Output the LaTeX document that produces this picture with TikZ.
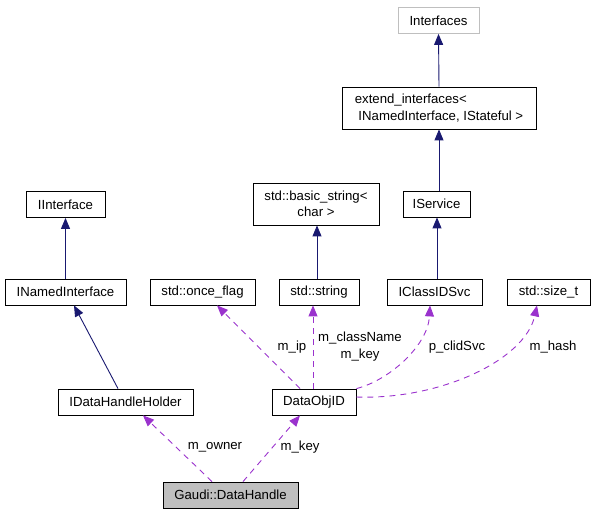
\documentclass[tikz,border=0pt]{standalone}
\usepackage{fontspec}
\setmainfont{Liberation Sans}
\usetikzlibrary{arrows.meta}
\definecolor{navy}{HTML}{191970}
\definecolor{purp}{HTML}{9A32CD}
\definecolor{lgray}{HTML}{BFBFBF}
\begin{document}
\begin{tikzpicture}[x=1pt,y=-1pt,
  txt/.style={font=\fontsize{13.2}{16.5}\selectfont},
  box/.style={txt,draw=black,line width=0.8pt,minimum height=26pt,inner sep=0pt,fill=white},
  inh/.style={draw=navy,line width=0.9pt,-{Triangle[length=11pt,width=9pt,fill=navy]}},
  use/.style={draw=purp,line width=0.9pt,dash pattern=on 6pt off 5pt,-{Triangle[length=11pt,width=9pt,fill=purp]}},
  lbl/.style={txt,inner sep=0pt,align=center}]
\useasboundingbox (0,0) rectangle (593,515);
% nodes
\node[box,draw=lgray,minimum width=81pt] (interfaces) at (438.5,20.5) {Interfaces};
\node[box,minimum width=194pt,minimum height=42pt,align=left] (ext) at (439,108) {extend\_interfaces<\\\ INamedInterface, IStateful >};
\node[box,minimum width=67pt] (iservice) at (436.5,204) {IService};
\node[box,minimum width=126pt,minimum height=42pt,align=center] (basic) at (316,204) {std::basic\_string<\\char >};
\node[box,minimum width=79pt] (iinterface) at (65.5,204.5) {IInterface};
\node[box,minimum width=121pt] (named) at (65.5,292) {INamedInterface};
\node[box,minimum width=105pt] (once) at (202.5,292) {std::once\_flag};
\node[box,minimum width=80pt] (string) at (319,292) {std::string};
\node[box,minimum width=95pt] (clid) at (434.5,292) {IClassIDSvc};
\node[box,minimum width=83pt] (sizet) at (548.5,292) {std::size\_t};
\node[box,minimum width=135pt] (holder) at (125.5,402) {IDataHandleHolder};
\node[box,minimum width=84pt] (dataobj) at (314,402) {DataObjID};
\node[box,fill=lgray,minimum width=135pt] (gaudi) at (230.5,495) {Gaudi::DataHandle};
% inheritance
\draw[inh] (ext.north) -- (interfaces.south);
\draw[inh] ([xshift=2.5pt]iservice.north) -- (ext.south);
\draw[inh] ([xshift=2.5pt]clid.north) -- ([xshift=0.5pt]iservice.south);
\draw[inh] ([xshift=-2pt]string.north) -- ([xshift=1pt]basic.south);
\draw[inh] (named.north) -- (iinterface.south);
\draw[inh] ([xshift=-7.5pt]holder.north) -- ([xshift=8.5pt]named.south);
% usage
\draw[use] ([xshift=-18.5pt]gaudi.north) -- ([xshift=17.5pt]holder.south);
\draw[use] ([xshift=12.5pt]gaudi.north) -- ([xshift=-14pt]dataobj.south);
\draw[use] ([xshift=-14pt]dataobj.north) -- ([xshift=14.5pt]once.south);
\draw[use] ([xshift=-1pt]dataobj.north) -- ([xshift=-6pt]string.south);
\draw[use] (dataobj.north east) .. controls (390,380) and (428,345) .. ([xshift=-4.5pt]clid.south);
\draw[use] ([yshift=5pt]dataobj.east) .. controls (440,400) and (525,360) .. ([xshift=-11.5pt]sizet.south);
% labels
\node[lbl] (lowner) at (215,447) {m\_owner};
\node[lbl] (lkey) at (300,447) {m\_key};
\node[lbl] (lip) at (292,347) {m\_ip};
\node[lbl] (lcls) at (360,346.5) {m\_className\\m\_key};
\node[lbl] (lclid) at (457,347) {p\_clidSvc};
\node[lbl] (lhash) at (553,347) {m\_hash};
\end{tikzpicture}
\end{document}
